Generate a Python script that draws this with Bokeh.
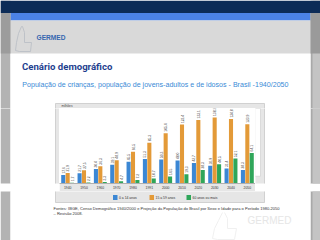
import math
from bokeh.plotting import figure
from bokeh.models import FactorRange, Range1d, ColumnDataSource
from bokeh.layouts import column, row
from bokeh.transform import dodge
from bokeh.core.properties import value
from bokeh.embed import file_html
from bokeh.resources import INLINE

# ---------------- data (millions) ----------------
years = ["1940", "1950", "1960", "1970", "1980", "1991",
         "2000", "2010", "2020", "2030", "2040", "2050"]
age_0_14 = [17.6, 21.7, 30.4, 39.1, 45.5, 51.3, 50.3, 48.0, 42.7, 36.9, 31.4, 28.3]
age_15_59 = [21.9, 27.5, 36.3, 48.9, 66.5, 85.3, 105.4, 123.4, 133.1, 138.2, 134.8, 123.9]
age_60_plus = [1.7, 2.2, 3.3, 4.7, 7.2, 10.7, 14.5, 19.3, 28.3, 40.5, 52.1, 64.1]
series_names = ["0 a 14 anos", "15 a 59 anos", "60 anos ou mais"]
series_colors = ["#3b87d4", "#e39a38", "#2fa65a"]

title_text = "Cenário demográfico"
subtitle_text = "População de crianças, população de jovens-adultos e de idosos -  Brasil -1940/2050"
unit_text = "milhões"
source_line1 = ("Fontes: IBGE, Censo Demográfico 1940/2000 e Projeção da População do Brasil "
                "por Sexo e Idade para o Período 1980-2050")
source_line2 = "– Revisão 2008."
brand = "GERMED"

FONT = "Liberation Sans"
TITLE_FONT = "Roboto"


def fmt(v):
    return f"{v:.1f}".replace(".", ",")


# ---------------- page decorations (slide) ----------------
boxes = [  # left, right, top, bottom, fill, line
    (0, 10, 0, 240, "#b3b3b3", None),
    (310, 320, 0, 240, "#a9a9a9", None),
    (312, 320, 0, 240, "#c4c4c4", None),
    (10, 310, 53, 240, "#ffffff", None),
    (0, 320, 0, 12.5, "#0c2b57", None),
    (10, 310, 12.5, 20, "#4b82e6", None),
    (10, 310, 20, 53, "#d9d9d9", None),
    (0, 10, 12.5, 53, "#9c9c9c", None),
    (310, 320, 12.5, 53, "#9a9a9a", None),
    (55, 264, 103, 202, "#e6e6e6", "#c8c8c8"),
    (59, 260, 108, 183, "#ffffff", "#d4d4d4"),
]
legend_x = [112.5, 149, 186]
for lx, col in zip(legend_x, series_colors):
    boxes.append((lx, lx + 4.5, 194.5, 199.5, col, None))

texts = [  # x, y, text, size, color, bold, font
    (36, 37, brand, "6.6px", "#3566b0", True, FONT),
    (21.5, 65.5, title_text, "9.6px", "#1f3f8f", True, TITLE_FONT),
    (21.8, 84.5, subtitle_text, "7.1px", "#3a8ad6", False, FONT),
    (61, 105.5, unit_text, "3.2px", "#444444", False, FONT),
    (53, 207.5, source_line1, "4.05px", "#333333", False, FONT),
    (53, 212.8, source_line2, "4.05px", "#333333", False, FONT),
    (247, 220, brand, "10px", "#e6e6e6", False, FONT),
]
for lx, name in zip(legend_x, series_names):
    texts.append((lx + 6, 197.2, name, "3.4px", "#333333", False, FONT))

outlines = [  # logo outline sketches
    ([21, 18, 16, 15, 19, 30, 31, 24, 24, 22, 21], [26, 33, 42, 50, 51, 51, 42, 42, 32, 26, 26], "#b7bcc4"),
    ([222, 218, 214, 212, 217, 234, 236, 227, 227, 224], [212, 220, 228, 238, 239, 239, 228, 228, 218, 212], "#ececec"),
]


def page_fig(x0, x1, y0, y1):
    f = figure(width=int(x1 - x0), height=int(y1 - y0),
               x_range=Range1d(x0, x1), y_range=Range1d(y1, y0),
               output_backend="svg", toolbar_location=None, min_border=0,
               x_axis_location=None, y_axis_location=None)
    f.xgrid.visible = False
    f.ygrid.visible = False
    f.outline_line_color = None
    f.border_fill_color = "#ffffff"
    f.background_fill_color = "#ffffff"
    for (l, r, t, b, c, ln) in boxes:
        if l < x1 and r > x0 and t < y1 and b > y0:
            f.quad(left=l, right=r, top=t, bottom=b, fill_color=c,
                   line_color=ln if ln else None, line_width=0.8)
    for (xs, ys, c) in outlines:
        if min(xs) < x1 and max(xs) > x0 and min(ys) < y1 and max(ys) > y0:
            f.line(xs, ys, line_color=c, line_width=0.8)
    for (x, y, t, s, c, bold, font) in texts:
        if x0 <= x < x1 and y0 <= y < y1:
            f.text(x=[x], y=[y], text=[t], text_font_size=s, text_color=c,
                   text_font=value(font), text_font_style="bold" if bold else "normal",
                   text_align="left", text_baseline="middle")
    return f


CH_L, CH_R, CH_T, CH_B = 59, 255, 108, 191

header = page_fig(0, 320, 0, CH_T)
left = page_fig(0, CH_L, CH_T, CH_B)
right = page_fig(CH_R, 320, CH_T, CH_B)
footer = page_fig(0, 320, CH_B, 240)

# ---------------- chart ----------------
src = ColumnDataSource(dict(
    year=years, a=age_0_14, b=age_15_59, c=age_60_plus,
    la=[fmt(v) for v in age_0_14],
    lb=[fmt(v) for v in age_15_59],
    lc=[fmt(v) for v in age_60_plus],
))

p = figure(width=CH_R - CH_L, height=CH_B - CH_T, x_range=FactorRange(*years),
           y_range=Range1d(0, 157), output_backend="svg", toolbar_location=None,
           min_border_left=0, min_border_right=0, min_border_top=0,
           min_border_bottom=8, y_axis_location=None)
p.border_fill_color = "#e6e6e6"
p.background_fill_color = "white"
p.outline_line_color = None
p.xgrid.visible = False
p.ygrid.visible = False

offsets = [-0.27, 0.0, 0.27]
for key, lkey, off, col in zip(["a", "b", "c"], ["la", "lb", "lc"], offsets, series_colors):
    p.vbar(x=dodge("year", off, range=p.x_range), top=key, width=0.25,
           source=src, fill_color=col, line_color=None)
    p.text(x=dodge("year", off, range=p.x_range), y=key, text=lkey, source=src,
           angle=math.pi / 2, text_align="left", text_baseline="middle",
           text_font_size="3.3px", y_offset=-1.5, text_color="#444444",
           text_font=value(FONT))

ax = p.xaxis[0]
ax.axis_line_color = "#b0b0b0"
ax.major_tick_line_color = None
ax.minor_tick_line_color = None
ax.major_tick_out = 0
ax.major_tick_in = 0
ax.major_label_text_font_size = "3.4px"
ax.major_label_text_color = "#333333"
ax.major_label_text_font = FONT
ax.major_label_standoff = 2

layout = column(header, row(left, p, right, spacing=0), footer, spacing=0)
open("out.html", "w").write(file_html(layout, INLINE))
